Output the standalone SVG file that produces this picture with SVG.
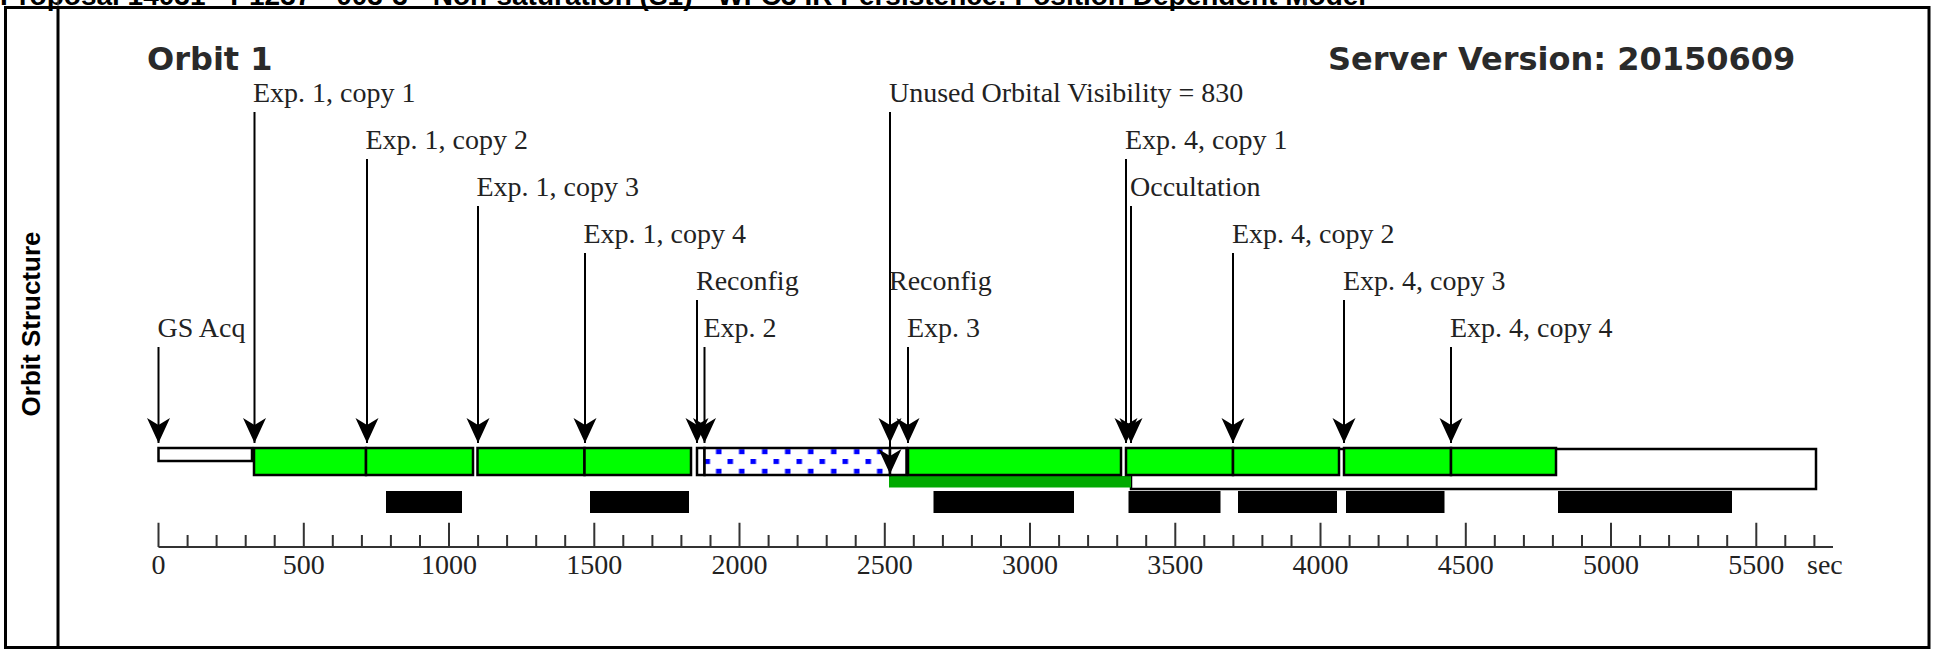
<svg xmlns="http://www.w3.org/2000/svg" width="1939" height="649" viewBox="0 0 1939 649">
<style>
.lbl{font-family:"Liberation Serif","Times New Roman",serif;font-size:28px;fill:#222}
.ax{font-family:"Liberation Serif","Times New Roman",serif;font-size:28px;fill:#222;text-anchor:middle}
.hdr{font-family:"DejaVu Sans",sans-serif;font-weight:bold;font-size:32px;fill:#2a2a2a}
.frame{fill:none;stroke:#000;stroke-width:3}
.ln{stroke:#000;stroke-width:2;fill:none}
.g{fill:#00ff00;stroke:#000;stroke-width:2.5}
.w{fill:#fff;stroke:#000;stroke-width:2.5}
.blk{fill:#000}
.tick{stroke:#333;stroke-width:2;fill:none}
</style>
<defs>
<marker id="ah" viewBox="-26 -13 27 26" refX="0" refY="0" markerWidth="27" markerHeight="26" markerUnits="userSpaceOnUse" orient="auto">
<path d="M0,0 L-25,-11.5 L-18,0 L-25,11.5 Z" fill="#000"/>
</marker>
<pattern id="dots" x="704.5" y="449.2" width="23" height="19.6" patternUnits="userSpaceOnUse">
<rect width="23" height="19.6" fill="#fff"/>
<rect x="11.5" y="0" width="5.5" height="5" fill="#00f"/>
<rect x="0" y="9.8" width="5.5" height="5" fill="#00f"/>
</pattern>
</defs>
<rect width="1939" height="649" fill="#fff"/>
<g id="page-frame">
<text x="0" y="5" font-family="Liberation Sans, Arial, sans-serif" font-weight="bold" font-size="28" fill="#000">Proposal 14031 - P1237 - 003-3 - Non-saturation (S1) - WFC3 IR Persistence: Position Dependent Model</text>
<line x1="58" y1="0" x2="58" y2="7" stroke="#555" stroke-width="1"/>
<line x1="1305" y1="0" x2="1305" y2="7" stroke="#555" stroke-width="1"/>
<rect class="frame" x="5.5" y="7.5" width="1923.5" height="640"/>
<line x1="58" y1="7.5" x2="58" y2="649" stroke="#000" stroke-width="3"/>
<text transform="translate(40,324) rotate(-90)" text-anchor="middle" font-family="Liberation Sans, Arial, sans-serif" font-weight="bold" font-size="26" fill="#000">Orbit Structure</text>
</g>
<g id="header">
<text class="hdr" x="147" y="70">Orbit 1</text>
<text class="hdr" x="1328" y="70">Server Version: 20150609</text>
</g>
<g id="timeline">
<rect id="occultation-box" class="w" x="1131" y="449" width="685" height="40"/>
<rect id="unused-visibility" x="889" y="476" width="242" height="11.5" fill="#00aa00"/>
<rect id="gs-acq" class="w" x="158.5" y="448" width="93.5" height="13"/>
<rect id="exp1-c1" class="g" x="254" y="448" width="112" height="27"/>
<rect id="exp1-c2" class="g" x="366" y="448" width="107" height="27"/>
<rect id="exp1-c3" class="g" x="477.5" y="448" width="107" height="27"/>
<rect id="exp1-c4" class="g" x="584.5" y="448" width="106.5" height="27"/>
<rect id="reconfig1" class="w" x="697" y="448" width="7.5" height="27"/>
<rect id="exp2" x="704.5" y="448" width="185.5" height="27" fill="url(#dots)" stroke="#000" stroke-width="2.5"/>
<rect id="reconfig2" class="w" x="890" y="448" width="16.5" height="27"/>
<rect id="exp3" class="g" x="908" y="448" width="213" height="27"/>
<rect id="exp4-c1" class="g" x="1126" y="448" width="107" height="27"/>
<rect id="exp4-c2" class="g" x="1233" y="448" width="106" height="27"/>
<rect id="exp4-c3" class="g" x="1344" y="448" width="107" height="27"/>
<rect id="exp4-c4" class="g" x="1451" y="448" width="105" height="27"/>
</g>
<g id="blocks">
<rect class="blk" x="386" y="491" width="76" height="22"/>
<rect class="blk" x="590" y="491" width="99" height="22"/>
<rect class="blk" x="933.5" y="491" width="140.5" height="22"/>
<rect class="blk" x="1128.5" y="491" width="92" height="22"/>
<rect class="blk" x="1238" y="491" width="99" height="22"/>
<rect class="blk" x="1346" y="491" width="98.5" height="22"/>
<rect class="blk" x="1558" y="491" width="174" height="22"/>
</g>
<g id="labels">
<g id="n-gsacq"><text class="lbl" x="157.5" y="337">GS Acq</text></g>
<g id="n-e1c1"><text class="lbl" x="253" y="102">Exp. 1, copy 1</text></g>
<g id="n-e1c2"><text class="lbl" x="365.5" y="149">Exp. 1, copy 2</text></g>
<g id="n-e1c3"><text class="lbl" x="476.5" y="196">Exp. 1, copy 3</text></g>
<g id="n-e1c4"><text class="lbl" x="583.5" y="243">Exp. 1, copy 4</text></g>
<g id="n-reconfig1"><text class="lbl" x="696" y="290">Reconfig</text></g>
<g id="n-exp2"><text class="lbl" x="703.5" y="337">Exp. 2</text></g>
<g id="n-unused"><text class="lbl" x="889" y="102">Unused Orbital Visibility = 830</text></g>
<g id="n-reconfig2"><text class="lbl" x="889" y="290">Reconfig</text></g>
<g id="n-exp3"><text class="lbl" x="907" y="337">Exp. 3</text></g>
<g id="n-e4c1"><text class="lbl" x="1125" y="149">Exp. 4, copy 1</text></g>
<g id="n-occ"><text class="lbl" x="1130" y="196">Occultation</text></g>
<g id="n-e4c2"><text class="lbl" x="1232" y="243">Exp. 4, copy 2</text></g>
<g id="n-e4c3"><text class="lbl" x="1343" y="290">Exp. 4, copy 3</text></g>
<g id="n-e4c4"><text class="lbl" x="1450" y="337">Exp. 4, copy 4</text></g>
</g>
<g id="connectors" class="ln">
<line x1="158.5" y1="347" x2="158.5" y2="443" marker-end="url(#ah)"/>
<line x1="254.5" y1="112" x2="254.5" y2="443" marker-end="url(#ah)"/>
<line x1="367" y1="159" x2="367" y2="443" marker-end="url(#ah)"/>
<line x1="478" y1="206" x2="478" y2="443" marker-end="url(#ah)"/>
<line x1="585" y1="253" x2="585" y2="443" marker-end="url(#ah)"/>
<line x1="697" y1="300" x2="697" y2="443" marker-end="url(#ah)"/>
<line x1="704.5" y1="347" x2="704.5" y2="443" marker-end="url(#ah)"/>
<line x1="890" y1="112" x2="890" y2="474" marker-end="url(#ah)"/>
<line x1="890" y1="300" x2="890" y2="443" marker-end="url(#ah)"/>
<line x1="908" y1="347" x2="908" y2="443" marker-end="url(#ah)"/>
<line x1="1126" y1="159" x2="1126" y2="443" marker-end="url(#ah)"/>
<line x1="1131" y1="206" x2="1131" y2="443" marker-end="url(#ah)"/>
<line x1="1233" y1="253" x2="1233" y2="443" marker-end="url(#ah)"/>
<line x1="1344" y1="300" x2="1344" y2="443" marker-end="url(#ah)"/>
<line x1="1451" y1="347" x2="1451" y2="443" marker-end="url(#ah)"/>
</g>
<g id="axis">
<path class="tick" d="M158.5,547H1833 M158.5,522.7V547 M303.8,522.7V547 M449,522.7V547 M594.3,522.7V547 M739.5,522.7V547 M884.8,522.7V547 M1030,522.7V547 M1175.3,522.7V547 M1320.5,522.7V547 M1465.8,522.7V547 M1611,522.7V547 M1756.3,522.7V547"/>
<path class="tick" d="M187.6,535V547 M216.6,535V547 M245.7,535V547 M274.7,535V547 M332.8,535V547 M361.9,535V547 M390.9,535V547 M420,535V547 M478.1,535V547 M507.1,535V547 M536.2,535V547 M565.2,535V547 M623.3,535V547 M652.4,535V547 M681.4,535V547 M710.5,535V547 M768.6,535V547 M797.6,535V547 M826.7,535V547 M855.7,535V547 M913.8,535V547 M942.9,535V547 M971.9,535V547 M1001,535V547 M1059.1,535V547 M1088.1,535V547 M1117.2,535V547 M1146.2,535V547 M1204.3,535V547 M1233.4,535V547 M1262.4,535V547 M1291.5,535V547 M1349.6,535V547 M1378.6,535V547 M1407.7,535V547 M1436.7,535V547 M1494.8,535V547 M1523.9,535V547 M1552.9,535V547 M1582,535V547 M1640.1,535V547 M1669.1,535V547 M1698.2,535V547 M1727.2,535V547 M1785.3,535V547 M1814.4,535V547"/>
<text class="ax" x="158.5" y="574">0</text>
<text class="ax" x="303.8" y="574">500</text>
<text class="ax" x="449" y="574">1000</text>
<text class="ax" x="594.3" y="574">1500</text>
<text class="ax" x="739.5" y="574">2000</text>
<text class="ax" x="884.8" y="574">2500</text>
<text class="ax" x="1030" y="574">3000</text>
<text class="ax" x="1175.3" y="574">3500</text>
<text class="ax" x="1320.5" y="574">4000</text>
<text class="ax" x="1465.8" y="574">4500</text>
<text class="ax" x="1611" y="574">5000</text>
<text class="ax" x="1756.3" y="574">5500</text>
<text class="lbl" x="1807" y="574">sec</text>
</g>
</svg>
